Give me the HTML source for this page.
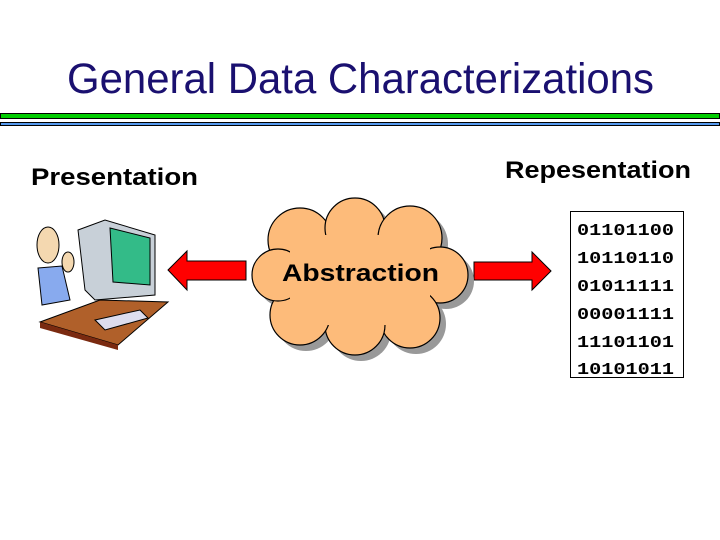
<!DOCTYPE html>
<html><head><meta charset="utf-8"><style>html,body{margin:0;padding:0;background:#fff;}svg{display:block}</style></head>
<body>
<svg width="720" height="540" viewBox="0 0 720 540" xmlns="http://www.w3.org/2000/svg">
<text x="67" y="93" font-family="Liberation Sans, sans-serif" font-size="43" fill="#1a1070" textLength="587" lengthAdjust="spacingAndGlyphs">General Data Characterizations</text>
<rect x="0.5" y="113.5" width="719" height="5" fill="#00cc00" stroke="#000"/>
<rect x="0.5" y="122.5" width="719" height="3" fill="#5599ee" stroke="#000"/>
<text x="31" y="185" font-family="Liberation Sans, sans-serif" font-weight="bold" font-size="24" fill="#000" textLength="167" lengthAdjust="spacingAndGlyphs">Presentation</text>
<text x="505" y="178" font-family="Liberation Sans, sans-serif" font-weight="bold" font-size="24" fill="#000" textLength="186" lengthAdjust="spacingAndGlyphs">Repesentation</text>
<polygon points="40,322 100,300 168,302 118,345" fill="#b0602a" stroke="#000"/>
<polygon points="40,322 118,345 118,350 40,328" fill="#7a2a10"/>
<polygon points="78,230 105,220 155,235 155,295 95,300 85,290" fill="#c8d0d8" stroke="#000"/>
<polygon points="110,228 150,238 150,285 113,282" fill="#33bb88" stroke="#000"/>
<polygon points="95,320 140,310 148,318 105,330" fill="#dde" stroke="#000"/>
<ellipse cx="48" cy="245" rx="11" ry="18" fill="#f4d8b0" stroke="#000"/>
<polygon points="38,268 62,266 70,300 42,305" fill="#88aaee" stroke="#000"/>
<ellipse cx="68" cy="262" rx="6" ry="10" fill="#f4d8b0" stroke="#000"/>
<polygon points="168,270 187,251 187,261 246,261 246,280 187,280 187,290" fill="#f00" stroke="#000"/>
<polygon points="551,271 532,252 532,262 474,262 474,280 532,280 532,290" fill="#f00" stroke="#000"/>
<g fill="#999" transform="translate(6,6)">
<circle cx="300" cy="240" r="32"/><circle cx="355" cy="228" r="30"/><circle cx="410" cy="238" r="32"/><circle cx="440" cy="275" r="28"/><circle cx="410" cy="318" r="30"/><circle cx="355" cy="325" r="30"/><circle cx="300" cy="315" r="30"/><circle cx="278" cy="275" r="26"/><rect x="290" y="235" width="140" height="90"/>
</g>
<g fill="#fdbb7a" stroke="#000" stroke-width="1.2">
<circle cx="300" cy="240" r="32"/><circle cx="355" cy="228" r="30"/><circle cx="410" cy="238" r="32"/><circle cx="440" cy="275" r="28"/><circle cx="410" cy="318" r="30"/><circle cx="355" cy="325" r="30"/><circle cx="300" cy="315" r="30"/><circle cx="278" cy="275" r="26"/>
</g>
<rect x="290" y="235" width="140" height="90" fill="#fdbb7a"/>
<text x="282" y="281" font-family="Liberation Sans, sans-serif" font-weight="bold" font-size="24" fill="#000" textLength="157" lengthAdjust="spacingAndGlyphs">Abstraction</text>
<rect x="570.5" y="211.5" width="113" height="166" fill="#fff" stroke="#000"/>
<g font-family="Liberation Mono, monospace" font-weight="bold" font-size="17" fill="#000">
<text x="577" y="235" textLength="97" lengthAdjust="spacingAndGlyphs">01101100</text>
<text x="577" y="263" textLength="97" lengthAdjust="spacingAndGlyphs">10110110</text>
<text x="577" y="291" textLength="97" lengthAdjust="spacingAndGlyphs">01011111</text>
<text x="577" y="319" textLength="97" lengthAdjust="spacingAndGlyphs">00001111</text>
<text x="577" y="347" textLength="97" lengthAdjust="spacingAndGlyphs">11101101</text>
<text x="577" y="374" textLength="97" lengthAdjust="spacingAndGlyphs">10101011</text>
</g>
</svg>
</body></html>
